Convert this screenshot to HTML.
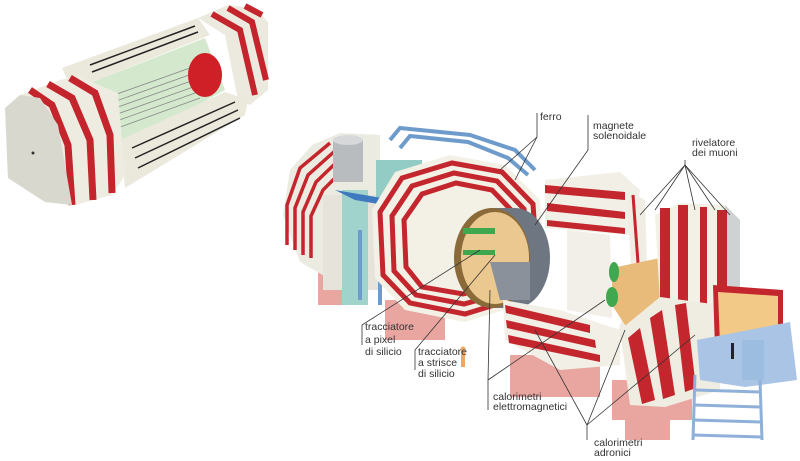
<!DOCTYPE html>
<html><head><meta charset="utf-8"><style>
body{margin:0;background:#fff;}
svg{display:block}
text{font-family:"Liberation Sans",sans-serif;font-size:10.5px;fill:#333}
</style></head><body>
<svg width="800" height="461" viewBox="0 0 800 461" xmlns="http://www.w3.org/2000/svg">
<!-- LEFT OBJECT -->
<!-- back right section -->
<polygon points="198,18 228,5 255,8 268,22 268,90 250,105 238,100 225,35" fill="#eceadf"/>
<g fill="none" stroke="#c4242c" stroke-width="6">
<path d="M212,14 L240,30 L255,95"/><path d="M228,8 L252,22 L266,80"/><path d="M245,6 L262,15"/>
</g>
<!-- top wall -->
<polygon points="62,68 198,18 210,35 72,90" fill="#ebe8dc"/>
<g stroke="#222" stroke-width="1.5">
<line x1="90" y1="65" x2="195" y2="26"/><line x1="92" y1="72" x2="198" y2="32"/><line x1="100" y1="80" x2="200" y2="42"/>
</g>
<!-- interior green -->
<polygon points="72,90 205,38 225,90 125,145 105,140" fill="#d3e8cc"/>
<g stroke="#888" stroke-width="0.8">
<line x1="100" y1="100" x2="190" y2="68"/><line x1="102" y1="106" x2="192" y2="74"/><line x1="104" y1="112" x2="194" y2="80"/><line x1="106" y1="118" x2="196" y2="86"/><line x1="108" y1="124" x2="198" y2="92"/><line x1="112" y1="130" x2="200" y2="98"/>
</g>
<ellipse cx="205" cy="75" rx="17" ry="22" fill="#cf2027"/>
<!-- bottom wall -->
<polygon points="120,140 225,92 248,100 245,115 125,188" fill="#ebe8dc"/>
<g stroke="#222" stroke-width="1.5">
<line x1="132" y1="148" x2="235" y2="102"/><line x1="135" y1="158" x2="238" y2="110"/><line x1="138" y1="168" x2="240" y2="118"/>
</g>
<!-- left section -->
<polygon points="5,108 20,95 60,80 78,76 118,93 125,175 112,195 75,205 45,202 8,178" fill="#eeece1"/>
<g fill="none" stroke="#c4242c" stroke-width="7">
<path d="M30,90 L52,105 L68,145 L72,205"/>
<path d="M48,84 L72,98 L90,140 L93,200"/>
<path d="M70,78 L95,93 L110,135 L112,193"/>
</g>
<polygon points="5,108 20,95 40,98 58,125 72,205 45,202 8,178" fill="#d9d8ce"/>
<circle cx="33" cy="153" r="1.5" fill="#333"/>
<!-- MAIN DETECTOR -->
<g fill="#e9a6a0">
<rect x="318" y="270" width="30" height="35"/><rect x="385" y="300" width="60" height="40"/>
<rect x="510" y="355" width="90" height="42"/><rect x="612" y="380" width="80" height="40"/>
<rect x="625" y="415" width="45" height="25"/>
</g>
<!-- back disk -->
<polygon points="283,215 290,170 312,145 340,133 380,135 380,290 340,285 300,262" fill="#ecebe2"/>
<g fill="none" stroke="#c5252c" stroke-width="3.5">
<path d="M287,245 L287,205 L300,168 L330,143"/><path d="M295,250 L295,208 L308,175 L336,150"/><path d="M303,255 L303,212 L316,182 L342,157"/><path d="M311,258 L311,216 L323,190 L348,165"/>
</g>
<rect x="323" y="195" width="55" height="95" fill="#e6e4da"/>
<rect x="342" y="190" width="26" height="115" fill="#9fd3cc"/>
<rect x="376" y="160" width="46" height="62" fill="#93ccc4"/>
<rect x="333" y="140" width="30" height="42" fill="#b9bcbf"/>
<ellipse cx="348" cy="140" rx="15" ry="5" fill="#d6d8da"/>
<polygon points="335,190 440,208 460,218 355,200" fill="#3f79c0"/>
<g fill="none" stroke="#6d9bcb" stroke-width="4">
<path d="M390,140 L400,128 L470,135 L515,150 L535,170"/><path d="M400,148 L410,136 L468,142 L508,158 L528,175"/>
<path d="M360,230 L360,300"/><path d="M380,220 L380,305"/>
</g>
<!-- front barrel ring -->
<polygon points="372,210 395,172 450,155 505,165 540,200 545,265 520,305 465,322 405,310 375,278" fill="#f3f0e6"/>
<g fill="none" stroke="#c3262d" stroke-width="5">
<polygon points="380,212 402,178 452,163 502,172 533,204 537,263 514,299 465,314 410,303 383,275"/>
<polygon points="392,216 412,186 454,173 497,181 524,209 528,260 507,292 464,304 416,295 394,271"/>
<polygon points="404,220 422,194 456,183 492,190 515,214 519,257 500,285 463,294 422,287 406,267"/>
</g>
<!-- inner cylinder -->
<ellipse cx="515" cy="258" rx="35" ry="50" fill="#6e7681"/>
<rect x="490" y="208" width="25" height="100" fill="#6e7681"/>
<ellipse cx="492" cy="258" rx="38" ry="50" fill="#8b6a3a"/>
<ellipse cx="495" cy="258" rx="34" ry="46" fill="#ebc88f"/>
<path d="M490,262 L530,262 L530,300 L500,300 Z" fill="#8a919a"/>
<rect x="463" y="228" width="32" height="6" fill="#3fa84e"/>
<rect x="463" y="250" width="32" height="5" fill="#3fa84e"/>
<!-- middle ring -->
<polygon points="545,180 620,172 640,190 630,235 545,228" fill="#f2efe6"/>
<g fill="#c3262d"><polygon points="545,185 625,192 625,200 545,193"/><polygon points="547,203 625,212 625,219 547,211"/><polygon points="547,220 625,228 625,234 547,226"/></g>
<polygon points="627,190 645,200 648,295 630,345 615,340 632,290" fill="#f0ede4"/>
<g fill="none" stroke="#c3262d" stroke-width="3"><path d="M633,195 L640,290 L623,338"/></g>
<polygon points="567,230 610,235 612,318 567,310" fill="#f1efe7"/>
<polygon points="503,300 560,310 620,330 620,365 560,370 505,340" fill="#f2efe6"/>
<g fill="#c3262d"><polygon points="505,305 590,325 590,333 506,313"/><polygon points="506,320 595,340 596,348 507,328"/><polygon points="508,335 600,355 600,362 509,343"/></g>
<!-- beam pipe gold -->
<polygon points="612,268 660,258 668,300 660,325 625,325 612,305" fill="#e8bb7a"/>
<ellipse cx="614" cy="272" rx="5" ry="10" fill="#3fa84e"/>
<ellipse cx="612" cy="297" rx="6" ry="10" fill="#3fa84e"/>
<!-- right endcap disc -->
<polygon points="655,215 680,203 725,205 740,220 740,300 725,310 660,303" fill="#f3f0e6"/>
<polygon points="725,205 740,220 740,300 725,310" fill="#cfd2d2"/>
<g fill="#c3262d"><rect x="660" y="208" width="10" height="95"/><rect x="678" y="205" width="10" height="98"/><rect x="700" y="207" width="7" height="98"/><rect x="717" y="210" width="10" height="95"/></g>
<!-- lower right block -->
<polygon points="620,330 660,297 720,305 720,390 665,407 630,405" fill="#efece2"/>
<g fill="#c3262d"><polygon points="628,338 640,328 655,400 642,404"/><polygon points="650,318 662,310 675,395 663,399"/><polygon points="675,305 686,303 696,388 685,392"/></g>
<polygon points="713,285 783,290 783,355 715,350" fill="#c3262d"/>
<polygon points="718,292 778,296 778,348 720,345" fill="#f2c987"/>
<!-- blue platform & stairs -->
<polygon points="697,340 790,322 797,380 745,387 700,380" fill="#a9c4e4"/>
<rect x="742" y="340" width="22" height="40" fill="#9cbde0"/>
<g stroke="#8fb0d8" stroke-width="3" fill="none">
<line x1="695" y1="375" x2="693" y2="440"/><line x1="760" y1="380" x2="762" y2="440"/>
<line x1="695" y1="390" x2="760" y2="392"/><line x1="695" y1="405" x2="760" y2="407"/><line x1="694" y1="420" x2="761" y2="422"/><line x1="693" y1="435" x2="762" y2="437"/>
</g>
<rect x="731" y="343" width="3" height="16" fill="#222"/>
<!-- figure -->
<rect x="461" y="351" width="4" height="16" fill="#f0a860"/><circle cx="463" cy="349" r="2.5" fill="#f0a860"/>
<!-- leader lines -->
<g stroke="#333" stroke-width="0.8" fill="none">
<polyline points="537,113 537,137 500,170"/><line x1="537" y1="137" x2="515" y2="180"/>
<polyline points="588,115 588,150 535,225"/>
<polyline points="685,160 685,165 640,215"/><line x1="685" y1="165" x2="655" y2="210"/><line x1="685" y1="165" x2="695" y2="210"/><line x1="685" y1="165" x2="715" y2="210"/><line x1="685" y1="165" x2="730" y2="215"/>
<polyline points="362,345 362,325 480,250"/>
<polyline points="415,370 415,350 495,255"/>
<polyline points="488,410 488,380 490,290"/><line x1="488" y1="380" x2="605" y2="300"/>
<polyline points="587,440 587,425 535,330"/><line x1="587" y1="425" x2="625" y2="330"/><line x1="587" y1="425" x2="695" y2="335"/>
</g>
<text x="540" y="120">ferro</text>
<text x="593" y="129">magnete</text><text x="593" y="139">solenoidale</text>
<text x="692" y="146">rivelatore</text><text x="692" y="156">dei muoni</text>
<text x="365" y="330">tracciatore</text><text x="365" y="343">a pixel</text><text x="365" y="355">di silicio</text>
<text x="418" y="355">tracciatore</text><text x="418" y="366">a strisce</text><text x="418" y="377">di silicio</text>
<text x="493" y="400">calorimetri</text><text x="493" y="410">elettromagnetici</text>
<text x="594" y="446">calorimetri</text><text x="594" y="456">adronici</text>
</svg>
</body></html>
